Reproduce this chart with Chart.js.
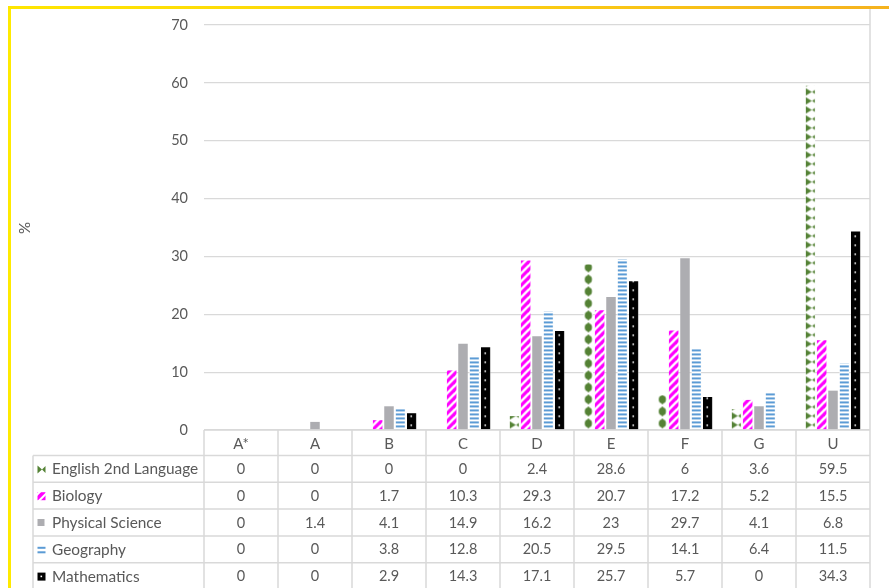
<!DOCTYPE html>
<html>
<head>
<meta charset="utf-8">
<title>Grade distribution by subject</title>
<script src="https://cdn.jsdelivr.net/npm/chart.js@4/dist/chart.umd.min.js"></script>
<style>
  html, body { margin: 0; padding: 0; background: #ffffff; }
  canvas { display: block; }
</style>
</head>
<body>
<canvas id="grades" width="889" height="588"></canvas>
<script>
// Grade categories and the percentage of candidates per subject
const categories = ['A*', 'A', 'B', 'C', 'D', 'E', 'F', 'G', 'U'];
const english2nd = [0, 0, 0, 0, 2.4, 28.6, 6, 3.6, 59.5];
const biology    = [0, 0, 1.7, 10.3, 29.3, 20.7, 17.2, 5.2, 15.5];
const physSci    = [0, 1.4, 4.1, 14.9, 16.2, 23, 29.7, 4.1, 6.8];
const geography  = [0, 0, 3.8, 12.8, 20.5, 29.5, 14.1, 6.4, 11.5];
const maths      = [0, 0, 2.9, 14.3, 17.1, 25.7, 5.7, 0, 34.3];
const yTicks     = [0, 10, 20, 30, 40, 50, 60, 70];

const FONT = 'Lato, "Open Sans", sans-serif';
const TEXT = '#595959';
const LINE = '#D9D9D9';

// Small canvases used as repeating fills, drawn relative to each bar's left edge
function tile(w, h, paint) {
  const c = document.createElement('canvas');
  c.width = w; c.height = h;
  const g = c.getContext('2d');
  g.fillStyle = '#ffffff';
  g.fillRect(0, 0, w, h);
  paint(g, w, h);
  return c;
}

// Columns where the green fill shows as a single column of dots
const dotColumns = new Set(['E', 'F']);

const fills = {
  english(bw, cat) {
    const tw = Math.ceil(bw) + 4;
    if (dotColumns.has(cat)) {
      return tile(tw, 12, (g) => {
        g.fillStyle = '#548235';
        g.beginPath();
        g.ellipse(bw / 2, 6, 3.6, 3.9, 0, 0, Math.PI * 2);
        g.fill();
        g.fillRect(bw / 2 - 0.6, 1, 1.2, 10);
      });
    }
    return tile(tw, 9, (g) => {
      g.fillStyle = '#548235';
      g.beginPath();
      g.moveTo(0, 0.8); g.lineTo(6.2, 4.5); g.lineTo(0, 8.2); g.closePath();
      g.fill();
      g.beginPath();
      g.moveTo(bw, 2.3); g.lineTo(bw - 3, 4.5); g.lineTo(bw, 6.7); g.closePath();
      g.fill();
    });
  },
  biology() {
    return tile(8, 8, (g) => {
      g.strokeStyle = '#FF00FF';
      g.lineWidth = 3.2;
      [0, 8, 16].forEach((c) => {
        g.beginPath();
        g.moveTo(c + 1, -1);
        g.lineTo(c - 9, 9);
        g.stroke();
      });
    });
  },
  geography(bw) {
    return tile(Math.ceil(bw) + 4, 4, (g) => {
      g.fillStyle = '#5B9BD5';
      g.fillRect(0, 0, bw, 2);
    });
  },
  maths(bw) {
    return tile(Math.ceil(bw) + 4, 9, (g) => {
      g.fillStyle = '#000000';
      g.fillRect(0, 0, bw, 9);
      g.fillStyle = '#ffffff';
      g.fillRect(3.5, 4, 1.6, 1.6);
    });
  }
};

// Assign the patterned fills once bar geometry is known
const barPatterns = {
  id: 'barPatterns',
  beforeDatasetsDraw(chart) {
    const ctx = chart.ctx;
    chart.data.datasets.forEach((ds, di) => {
      const make = fills[ds.fillKey];
      if (!make) return;
      chart.getDatasetMeta(di).data.forEach((bar, i) => {
        const left = bar.x - bar.width / 2;
        const p = ctx.createPattern(make(bar.width, categories[i]), 'repeat');
        p.setTransform(new DOMMatrix().translate(left, bar.base));
        bar.options.backgroundColor = p;
      });
    });
  }
};

// Legend keys shown beside each row label of the data table
function drawKey(ctx, key, x, cy) {
  const s = 8, y = cy - s / 2;
  ctx.save();
  if (key === 'english') {
    ctx.fillStyle = '#548235';
    ctx.beginPath();
    ctx.moveTo(x, y); ctx.lineTo(x + 4.5, cy); ctx.lineTo(x, y + s); ctx.closePath(); ctx.fill();
    ctx.beginPath();
    ctx.moveTo(x + s, y + 0.5); ctx.lineTo(x + s - 3.5, cy); ctx.lineTo(x + s, y + s - 0.5); ctx.closePath(); ctx.fill();
  } else if (key === 'biology') {
    ctx.fillStyle = '#FF00FF';
    ctx.fillRect(x, y, s, s);
    ctx.strokeStyle = '#ffffff';
    ctx.lineWidth = 2;
    ctx.beginPath(); ctx.moveTo(x + 1, y + s + 1); ctx.lineTo(x + s + 1, y + 1); ctx.stroke();
    ctx.beginPath(); ctx.moveTo(x - 1, y + 3); ctx.lineTo(x + 3, y - 1); ctx.stroke();
  } else if (key === 'phys') {
    ctx.fillStyle = '#ADADB1';
    ctx.fillRect(x, y, s - 1, s - 1);
  } else if (key === 'geography') {
    ctx.fillStyle = '#5B9BD5';
    ctx.fillRect(x, cy - 3, s, 2);
    ctx.fillRect(x, cy + 1.5, s, 2);
  } else if (key === 'maths') {
    ctx.fillStyle = '#000000';
    ctx.fillRect(x, y, s, s);
    ctx.fillStyle = '#ffffff';
    ctx.fillRect(x + 3, y + 3, 1.6, 1.6);
  }
  ctx.restore();
}

const tableRows = [
  { label: 'English 2nd Language', key: 'english', values: english2nd },
  { label: 'Biology', key: 'biology', values: biology },
  { label: 'Physical Science', key: 'phys', values: physSci },
  { label: 'Geography', key: 'geography', values: geography },
  { label: 'Mathematics', key: 'maths', values: maths }
];

// Data table under the plot, the axis title and the frame
const decorations = {
  id: 'decorations',
  beforeDraw(chart) {
    const { ctx, width, height } = chart;
    ctx.save();
    ctx.fillStyle = '#ffffff';
    ctx.fillRect(0, 0, width, height);
    ctx.restore();
  },
  afterDraw(chart) {
    const { ctx, chartArea: a, scales: { x } } = chart;
    const n = categories.length;
    const colW = x.width / n;
    const top = a.bottom;
    const headH = 25.5;
    const rowH = 26.8;
    const labelLeft = 33;
    const bottom = chart.height + 2;

    ctx.save();
    ctx.strokeStyle = LINE;
    ctx.lineWidth = 1.5;

    // header row top
    ctx.beginPath();
    ctx.moveTo(a.left, top); ctx.lineTo(a.right, top);
    ctx.stroke();
    // row separators
    for (let r = 0; r <= tableRows.length; r++) {
      const yy = top + headH + r * rowH;
      ctx.beginPath();
      ctx.moveTo(labelLeft, yy); ctx.lineTo(a.right, yy);
      ctx.stroke();
    }
    // column separators
    for (let i = 0; i < n; i++) {
      const cx = x.getPixelForValue(i) - colW / 2;
      ctx.beginPath();
      ctx.moveTo(cx, top); ctx.lineTo(cx, bottom);
      ctx.stroke();
    }
    // label column left edge
    ctx.beginPath();
    ctx.moveTo(labelLeft, top + headH); ctx.lineTo(labelLeft, bottom);
    ctx.stroke();
    // right edge of the plot and table
    ctx.beginPath();
    ctx.moveTo(a.right, 8); ctx.lineTo(a.right, bottom);
    ctx.stroke();

    ctx.fillStyle = TEXT;
    ctx.textBaseline = 'middle';
    ctx.textAlign = 'center';
    ctx.font = '15px ' + FONT;
    categories.forEach((c, i) => {
      ctx.fillText(c, x.getPixelForValue(i), top + headH / 2 + 1);
    });
    tableRows.forEach((row, r) => {
      const cy = top + headH + r * rowH + rowH / 2 + 0.5;
      ctx.textAlign = 'center';
      ctx.font = '14.5px ' + FONT;
      row.values.forEach((v, i) => {
        ctx.fillText(String(v), x.getPixelForValue(i), cy);
      });
      ctx.textAlign = 'left';
      ctx.font = '15.4px ' + FONT;
      ctx.fillText(row.label, 52, cy);
      drawKey(ctx, row.key, 37.5, cy);
    });

    // y-axis title
    ctx.save();
    ctx.translate(25, 228);
    ctx.rotate(-Math.PI / 2);
    ctx.textAlign = 'center';
    ctx.font = '15px ' + FONT;
    ctx.fillText('%', 0, 0);
    ctx.restore();

    // frame: yellow left edge, yellow-to-amber top edge
    ctx.fillStyle = '#FFEA00';
    ctx.fillRect(8, 6, 3, chart.height - 6);
    const grad = ctx.createLinearGradient(8, 0, chart.width, 0);
    grad.addColorStop(0, '#FFE600');
    grad.addColorStop(0.5, '#FCD20F');
    grad.addColorStop(1, '#F5B21E');
    ctx.fillStyle = grad;
    ctx.fillRect(8, 6, chart.width - 8, 3);
    ctx.restore();
  }
};

const Y_AXIS_WIDTH = 60;

new Chart(document.getElementById('grades'), {
  type: 'bar',
  data: {
    labels: categories,
    datasets: [
      { label: 'English 2nd Language', data: english2nd, fillKey: 'english', backgroundColor: () => '#548235' },
      { label: 'Biology', data: biology, fillKey: 'biology', backgroundColor: () => '#FF00FF' },
      { label: 'Physical Science', data: physSci, backgroundColor: () => '#ADADB1' },
      { label: 'Geography', data: geography, fillKey: 'geography', backgroundColor: () => '#5B9BD5' },
      { label: 'Mathematics', data: maths, fillKey: 'maths', backgroundColor: () => '#000000' }
    ]
  },
  options: {
    responsive: false,
    animation: false,
    devicePixelRatio: 1,
    layout: { padding: { left: 204 - Y_AXIS_WIDTH, right: 19, top: 25, bottom: 158 } },
    datasets: {
      bar: { categoryPercentage: 0.765, barPercentage: 0.84, borderWidth: 0 }
    },
    plugins: {
      legend: { display: false },
      tooltip: { enabled: false },
      title: { display: false }
    },
    scales: {
      x: { display: false },
      y: {
        min: 0,
        max: 70,
        afterFit(scale) { scale.width = Y_AXIS_WIDTH; },
        afterBuildTicks(scale) { scale.ticks = yTicks.map((v) => ({ value: v })); },
        border: { display: false },
        grid: { color: LINE, lineWidth: 1.2, drawTicks: false },
        ticks: { color: TEXT, padding: 16, font: { family: FONT, size: 14.5 } }
      }
    }
  },
  plugins: [barPatterns, decorations]
});
</script>
</body>
</html>
